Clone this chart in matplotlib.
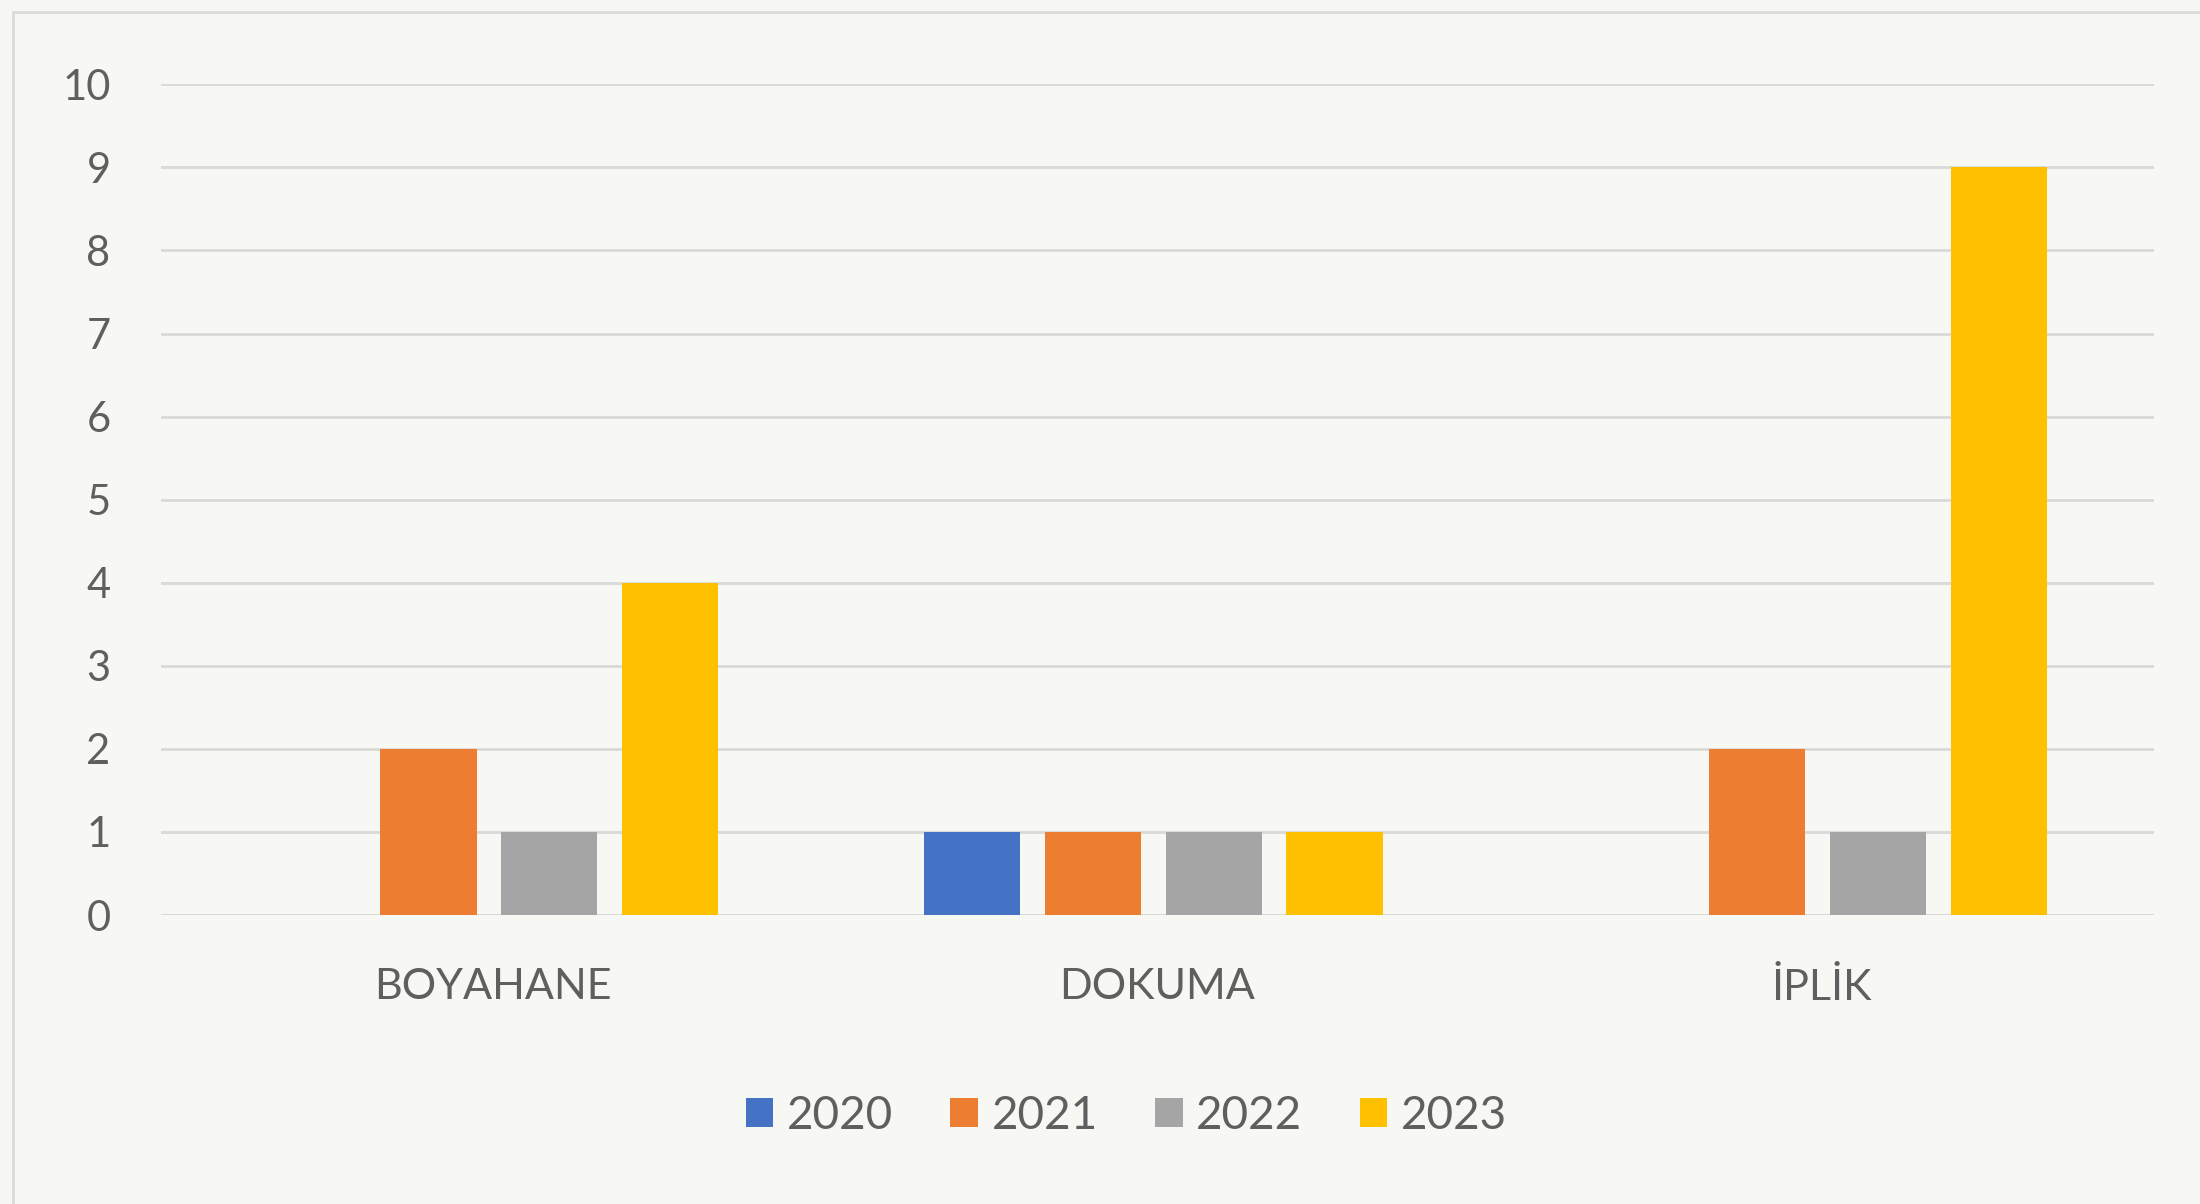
import numpy as np
import matplotlib
matplotlib.use("Agg")
import matplotlib.pyplot as plt
from matplotlib.patches import Rectangle

# ── Data ─────────────────────────────────────────────────────────
categories = ["BOYAHANE", "DOKUMA", "İPLİK"]
years = ["2020", "2021", "2022", "2023"]
values_2020 = [0, 1, 0]
values_2021 = [2, 1, 2]
values_2022 = [1, 1, 1]
values_2023 = [4, 1, 9]
y_ticks = list(range(0, 11))

series = [values_2020, values_2021, values_2022, values_2023]
colors = ["#4472C4", "#ED7D31", "#A5A5A5", "#FFC000"]

BG = "#f7f7f4"
TEXT = "#5f5f5f"
GRID = "#d9d9d9"

plt.rcParams["font.family"] = ["Lato", "DejaVu Sans"]

# ── Plot ─────────────────────────────────────────────────────────
fig = plt.figure(figsize=(22, 12.04), dpi=100, facecolor=BG)
ax = fig.add_axes([0.073, 0.240, 0.906, 0.690], facecolor=BG)

x = np.arange(len(categories))
step = 0.182
width = 0.145
for i, (vals, col, yr) in enumerate(zip(series, colors, years)):
    ax.bar(x + (i - 1.5) * step - 0.006, vals, width=width, color=col,
           label=yr, zorder=3)

ax.set_xlim(-0.5, 2.5)
ax.set_ylim(0, 10)
ax.set_yticks(y_ticks)
ax.set_xticks(x)
ax.set_xticklabels(categories)
ax.grid(axis="y", color=GRID, linewidth=2, zorder=0)
ax.axhline(0, color=GRID, linewidth=2, zorder=1)
for s in ax.spines.values():
    s.set_visible(False)
ax.tick_params(axis="both", length=0, colors=TEXT, labelsize=30)
ax.tick_params(axis="x", labelsize=31, pad=38)
ax.tick_params(axis="y", pad=36)

handles, labels = ax.get_legend_handles_labels()
fig.legend(handles, labels, loc="center", bbox_to_anchor=(0.512, 0.0735),
           ncol=4, frameon=False, fontsize=33, labelcolor=TEXT,
           handlelength=0.6, handleheight=0.6, handletextpad=0.3,
           columnspacing=1.25)

# faint chart-area border from the scan
fig.add_artist(Rectangle((0.006, -0.01), 1.0, 1.0, transform=fig.transFigure,
                         fill=False, edgecolor="#dcdcdc", linewidth=2))

fig.savefig("out.png", dpi=100, facecolor=BG)
